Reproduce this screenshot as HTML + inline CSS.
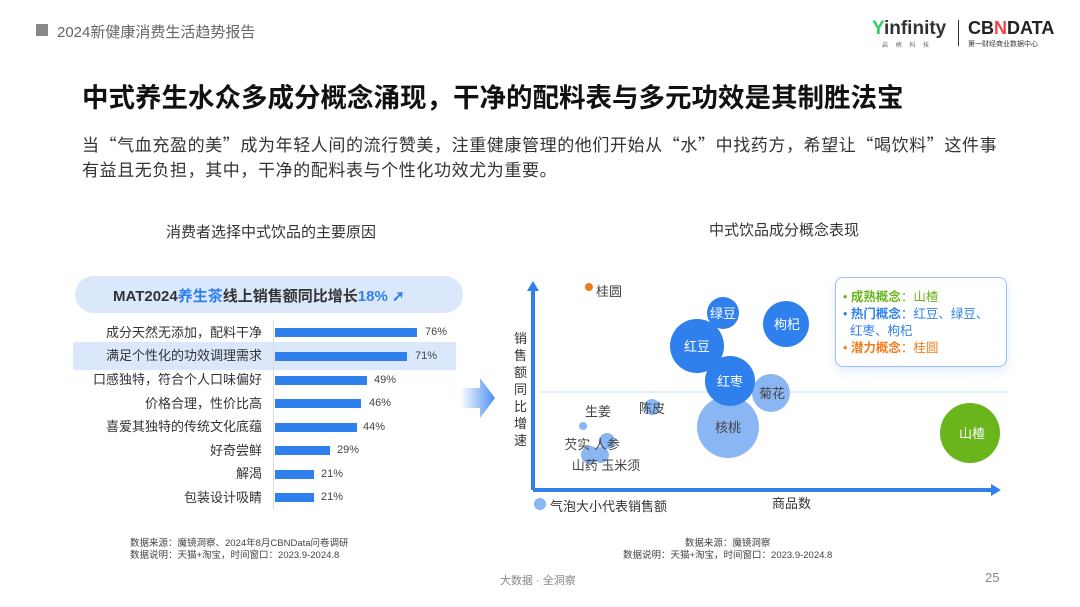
<!DOCTYPE html><html><head><meta charset="utf-8"><style>
body{margin:0;width:1080px;height:607px;background:#fff;position:relative;overflow:hidden;font-family:"Liberation Sans","Noto Sans CJK SC",sans-serif;color:#333}
.a{position:absolute;white-space:nowrap}
.lbl{position:absolute;right:818px;font-size:13px;color:#333;line-height:16px}
.bar{position:absolute;left:275px;height:9px;background:#2f80ed}
.pct{position:absolute;font-size:11px;color:#444}
</style></head><body>
<div class="a" style="left:36px;top:24px;width:12px;height:12px;background:#888"></div>
<div class="a" style="left:57px;top:21px;font-size:15px;color:#666">2024新健康消费生活趋势报告</div>
<div class="a" style="left:872px;top:18px;font-size:19px;font-weight:bold;color:#333"><span style="color:#3c6">Y</span>infinity</div>
<div class="a" style="left:882px;top:40px;font-size:6px;color:#666;letter-spacing:3px">启 柄 科 技</div>
<div class="a" style="left:958px;top:20px;width:1px;height:26px;background:#333"></div>
<div class="a" style="left:968px;top:18px;font-size:18px;font-weight:bold;color:#222">CB<span style="color:#e44">N</span>DATA</div>
<div class="a" style="left:968px;top:39px;font-size:7px;color:#333">第一财经商业数据中心</div>
<div class="a" style="left:82px;top:78px;font-size:26.5px;font-weight:bold;color:#111;font-family:'Noto Sans CJK SC',sans-serif;line-height:36px">中式养生水众多成分概念涌现，干净的配料表与多元功效是其制胜法宝</div>
<div class="a" style="left:82px;top:131px;font-size:17px;letter-spacing:0.6px;color:#333;line-height:25px;font-family:'Noto Sans CJK SC',sans-serif">当“气血充盈的美”成为年轻人间的流行赞美，注重健康管理的他们开始从“水”中找药方，希望让“喝饮料”这件事<br>有益且无负担，其中，干净的配料表与个性化功效尤为重要。</div>
<div class="a" style="left:166px;top:221px;font-size:15px;color:#333">消费者选择中式饮品的主要原因</div>
<div class="a" style="left:709px;top:219px;font-size:15px;color:#333">中式饮品成分概念表现</div>
<div class="a" style="left:75px;top:276px;width:388px;height:37px;border-radius:19px;background:#dbe8fb"></div>
<div class="a" style="left:113px;top:285px;font-size:15px;font-weight:bold;color:#333">MAT2024<span style="color:#2f80ed">养生茶</span>线上销售额同比增长<span style="color:#2f80ed">18%</span> <span style="color:#2f80ed">➚</span></div>
<div class="a" style="left:73px;top:342px;width:383px;height:28px;background:#dbe8fb"></div>
<div class="a" style="left:273px;top:320px;width:1px;height:190px;background:#ddd"></div>
<div class="lbl" style="top:325px">成分天然无添加，配料干净</div><div class="bar" style="top:328px;width:142px"></div><div class="pct" style="left:425px;top:326px">76%</div>
<div class="lbl" style="top:348px">满足个性化的功效调理需求</div><div class="bar" style="top:352px;width:132px"></div><div class="pct" style="left:415px;top:350px">71%</div>
<div class="lbl" style="top:372px">口感独特，符合个人口味偏好</div><div class="bar" style="top:376px;width:92px"></div><div class="pct" style="left:374px;top:374px">49%</div>
<div class="lbl" style="top:396px">价格合理，性价比高</div><div class="bar" style="top:399px;width:86px"></div><div class="pct" style="left:369px;top:397px">46%</div>
<div class="lbl" style="top:419px">喜爱其独特的传统文化底蕴</div><div class="bar" style="top:423px;width:82px"></div><div class="pct" style="left:363px;top:421px">44%</div>
<div class="lbl" style="top:443px">好奇尝鲜</div><div class="bar" style="top:446px;width:55px"></div><div class="pct" style="left:337px;top:444px">29%</div>
<div class="lbl" style="top:466px">解渴</div><div class="bar" style="top:470px;width:39px"></div><div class="pct" style="left:321px;top:468px">21%</div>
<div class="lbl" style="top:490px">包装设计吸睛</div><div class="bar" style="top:493px;width:39px"></div><div class="pct" style="left:321px;top:491px">21%</div>
<svg class="a" style="left:460px;top:378px" width="40" height="40"><defs><linearGradient id="g"><stop offset="0" stop-color="#fff"/><stop offset="1" stop-color="#4a8ff0"/></linearGradient></defs><polygon points="0,10 20,10 20,0 35,20 20,40 20,30 0,30" fill="url(#g)"/></svg>
<svg class="a" style="left:0;top:0" width="1080" height="607">
<line x1="533" y1="490" x2="533" y2="290" stroke="#2f80ed" stroke-width="4"/><polygon points="527,291 539,291 533,281" fill="#2f80ed"/>
<line x1="533" y1="490" x2="992" y2="490" stroke="#2f80ed" stroke-width="4"/><polygon points="991,484 991,496 1001,490" fill="#2f80ed"/>
<line x1="540" y1="392" x2="1008" y2="392" stroke="#c5d9f5" stroke-width="1"/>
<g font-size="13" text-anchor="middle" font-family="Liberation Sans,Noto Sans CJK SC,sans-serif">
<circle cx="728" cy="427" r="31" fill="#8ab6f3"/><text x="728" y="432" fill="#444">核桃</text>
<circle cx="771" cy="393" r="19" fill="#8ab6f3"/><text x="772" y="398" fill="#444">菊花</text>
<circle cx="723" cy="313" r="16" fill="#2f80ed"/><text x="723" y="318" fill="#fff">绿豆</text>
<circle cx="786" cy="324" r="23" fill="#2f80ed"/><text x="787" y="329" fill="#fff">枸杞</text>
<circle cx="697" cy="346" r="27" fill="#2f80ed"/><text x="697" y="351" fill="#fff">红豆</text>
<circle cx="730" cy="381" r="25" fill="#2f80ed"/><text x="730" y="386" fill="#fff">红枣</text>
<circle cx="970" cy="433" r="30" fill="#6ab41c"/><text x="972" y="438" fill="#fff">山楂</text>
<circle cx="652" cy="407" r="8" fill="#8ab6f3"/><text x="652" y="413" fill="#444">陈皮</text>
<circle cx="583" cy="426" r="4" fill="#8ab6f3"/><text x="598" y="416" fill="#444">生姜</text>
<circle cx="607" cy="441" r="8" fill="#8ab6f3"/><circle cx="590" cy="455" r="9" fill="#8ab6f3"/><circle cx="601" cy="455" r="8" fill="#8ab6f3"/>
<text x="592" y="449" fill="#444">芡实 人参</text><text x="606" y="470" fill="#444">山药 玉米须</text>
<circle cx="589" cy="287" r="4" fill="#f07c1c"/><text x="609" y="296" fill="#444">桂圆</text>
<circle cx="540" cy="504" r="6" fill="#8ab6f3"/>
</g></svg>
<div class="a" style="left:550px;top:496px;font-size:13px;color:#333">气泡大小代表销售额</div>
<div class="a" style="left:772px;top:493px;font-size:13px;color:#333">商品数</div>
<div class="a" style="left:514px;top:330px;font-size:13px;color:#333;width:14px;line-height:17px;white-space:normal">销售额同比增速</div>
<div class="a" style="left:835px;top:277px;width:170px;height:88px;border:1px solid #9cc0f3;border-radius:8px;box-shadow:0 4px 10px rgba(47,128,237,.15);background:#fff"></div>
<div class="a" style="left:843px;top:289px;font-size:12.5px;line-height:17px;white-space:normal;width:160px">
<div style="color:#6ab41c">• <b>成熟概念</b>：山楂</div>
<div style="color:#2f80ed">• <b>热门概念</b>：红豆、绿豆、<br>&nbsp;&nbsp;红枣、枸杞</div>
<div style="color:#f07c1c">• <b>潜力概念</b>：桂圆</div></div>
<div class="a" style="left:130px;top:538px;font-size:9.5px;color:#444;line-height:12px">数据来源：魔镜洞察、2024年8月CBNData问卷调研<br>数据说明：天猫+淘宝，时间窗口：2023.9-2024.8</div>
<div class="a" style="left:623px;top:538px;font-size:9.5px;color:#444;line-height:12px;text-align:center">数据来源：魔镜洞察<br>数据说明：天猫+淘宝，时间窗口：2023.9-2024.8</div>
<div class="a" style="left:500px;top:572px;font-size:11px;color:#888">大数据 · 全洞察</div>
<div class="a" style="left:985px;top:570px;font-size:13px;color:#888">25</div>
</body></html>
